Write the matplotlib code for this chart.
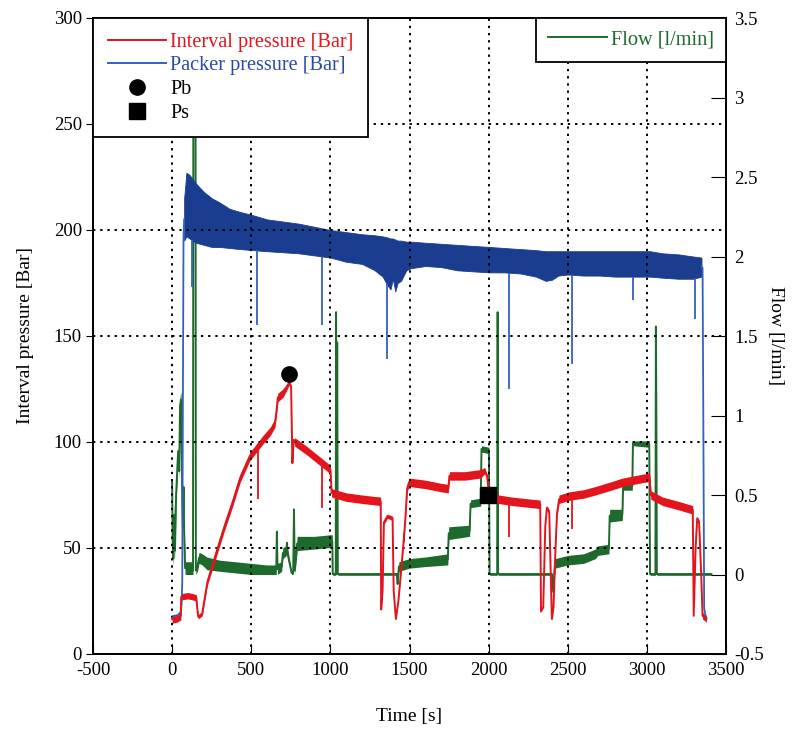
import numpy as np
import matplotlib
matplotlib.use("Agg")
import matplotlib.pyplot as plt
from matplotlib.lines import Line2D

plt.rcParams['font.family'] = ['Liberation Serif', 'DejaVu Serif']
plt.rcParams['axes.unicode_minus'] = False

# ---------------- data ----------------
# Packer pressure [Bar] : noisy band (top / bottom envelope)
pk_t = [76, 90, 110, 150, 200, 250, 300, 363, 430, 510, 600, 700, 800, 900, 1000, 1100, 1200, 1280,
        1330, 1360, 1380, 1395, 1410, 1425, 1446, 1480, 1510, 1600, 1700, 1800, 1900, 2007, 2100,
        2200, 2300, 2360, 2400, 2440, 2500, 2600, 2700, 2800, 2900, 3020, 3100, 3200, 3293, 3345]
pk_top = [215, 227, 226, 222, 218, 215, 213, 210, 208.5, 207, 205, 204, 203, 201.5, 200, 199, 198, 197.5,
          197, 196.5, 196, 196, 195.5, 195, 195, 194.5, 194.5, 194, 193.5, 193, 192.5, 192, 191.5,
          191, 190.5, 190, 190, 190, 190, 190, 190, 190, 190, 190, 189, 188.5, 187.5, 187]
pk_bot = [195, 197, 196, 194, 193, 192, 192, 191.5, 191, 190.5, 190, 189.5, 189, 188, 187, 185, 184, 181,
          178, 174, 172, 177, 171, 175, 176, 181, 182, 183, 182.5, 181, 180.5, 180, 180,
          179.5, 178, 176, 176.5, 178.5, 179, 178.5, 178.5, 178, 178, 178, 177.5, 177, 177, 178]
# thin parts (start rise / end drop)
pk_start_t = [0, 15, 30, 45, 55, 60, 64, 68, 72, 76]
pk_start_p = [17, 18, 17.5, 19, 20, 24, 34, 120, 197, 205]
pk_end_t = [3345, 3352, 3358, 3362, 3368, 3376]
pk_end_p = [183, 182, 90, 22, 19, 17]
# downward spikes
pk_spk_t = [127, 535, 950, 1357, 2130, 2525, 2910, 3303]
pk_spk_min = [173, 155, 155, 139, 125, 137, 167, 158]

# Interval pressure [Bar] : (time, centre, half band width)
ip_t = [0, 30, 55, 58, 100, 130, 153, 158, 165, 190, 223, 280, 330, 382, 430, 490, 573, 620, 650, 660,
        668, 700, 725, 740, 752, 760, 768, 775, 850, 900, 950, 1000, 1008, 1100, 1200, 1318, 1321,
        1330, 1338, 1360, 1393, 1400, 1414, 1430, 1450, 1465, 1475, 1485, 1497, 1600, 1700, 1745,
        1752, 1850, 1950, 1975, 1990, 2003, 2063, 2150, 2250, 2326, 2331, 2345, 2358, 2368, 2383,
        2395, 2400, 2410, 2420, 2432, 2445, 2509, 2600, 2675, 2763, 2847, 2950, 3017, 3025, 3100,
        3200, 3290, 3296, 3308, 3318, 3330, 3342, 3352, 3376]
ip_p = [16.5, 17, 18, 27, 27.5, 27, 26.5, 22, 17.5, 19, 34, 48, 60, 71.5, 83, 93, 101, 105, 109, 115,
        121, 123, 126, 128, 126, 90, 101, 100, 96, 93, 90, 87, 76, 74, 73, 72, 21,
        30, 62, 65, 64, 30, 16.5, 25, 42, 55, 65, 78, 81, 80, 78.5, 78,
        84, 84, 85, 86.5, 84, 75, 73, 72, 71.2, 70.6, 20, 22, 60, 69, 67,
        30, 16.5, 22, 45, 66, 73, 74.5, 75.5, 77, 79, 81, 82.5, 83.4, 75, 72,
        70, 68, 18, 50, 64, 62, 40, 18, 16.5]
ip_h = [2, 2, 2, 1.5, 1.5, 1.5, 1.5, 1, 1, 1, 1.5, 2, 2, 2, 2, 2, 2, 2, 2, 2,
        2, 2, 1.5, 1, 1, 0, 0, 2, 2, 2, 2, 2, 2, 2, 2, 2, 0,
        0, 1, 1, 1, 0, 0, 0, 1, 1, 1, 1.5, 2, 2, 2, 2,
        2, 2, 2, 1.5, 1, 1, 2, 2, 2, 2, 0, 0, 0, 1, 1,
        0, 0, 0, 0, 1, 2, 2, 2, 2, 2, 2, 2, 2, 2, 2,
        2, 2, 0, 0, 1, 1, 0, 1.5, 1.5]
ip_spk_t = [543, 950, 1467, 2130, 2525]
ip_spk_min = [73, 69, 53, 55, 59]

# Flow [l/min] : (time, low, high)
fl_t = [0, 3, 8, 12, 18, 25, 32, 38, 45, 50, 56, 60, 64, 68, 72, 76, 82, 125, 132, 134, 148, 150, 160,
        170, 190, 220, 300, 400, 500, 600, 658, 662, 666, 692, 700, 722, 726, 730, 755, 765, 770, 775,
        790, 900, 1000, 1012, 1015, 1034, 1036, 1040, 1043, 1047, 1420, 1425, 1433, 1500, 1600, 1742,
        1748, 1880, 1886, 1950, 1955, 2002, 2006, 2054, 2057, 2060, 2400, 2408, 2420, 2500, 2600,
        2675, 2690, 2760, 2765, 2845, 2850, 2908, 2912, 3015, 3020, 3054, 3057, 3060, 3063, 3408]
fl_lo = [.55, .15, .05, .3, .1, .45, .6, .75, .6, 1.0, 1.05, .85, .4, .25, .5, .25, .0, .0, .0, 2.9, 2.9, .0, .02,
         .07, .06, .03, .02, .01, .0, .0, .0, .27, .0, .02, .1, .12, .2, .1, .0, .0, .41, .0,
         .15, .16, .17, .17, -.005, -.005, 1.65, .0, 1.46, -.005, -.005, -.06, .02, .04, .05, .06,
         .22, .24, .42, .43, .77, .76, -.005, -.005, 1.65, -.005, -.005, -.11, .04, .06, .07,
         .1, .12, .13, .33, .34, .53, .53, .81, .80, -.005, -.005, 1.56, 1.0, -.005, -.005]
fl_hi = [.62, .3, .15, .45, .2, .55, .7, .8, .7, 1.12, 1.15, .9, .5, .35, .6, .3, .08, .08, .05, 2.9, 2.9, .05, .08,
         .14, .13, .11, .09, .08, .07, .06, .06, .27, .07, .08, .17, .18, .2, .16, .02, .02, .41, .05,
         .24, .24, .25, .25, .01, .01, 1.65, .01, 1.46, .01, .01, -.06, .08, .1, .11, .13,
         .3, .31, .47, .48, .81, .8, .01, .01, 1.65, .01, .01, -.11, .1, .12, .13,
         .16, .18, .19, .41, .41, .58, .58, .84, .84, .01, .01, 1.56, 1.0, .01, .01]

# markers
pb_t, pb_p = [740], [132]
ps_t, ps_p = [1998], [75]

# ---------------- styling ----------------
RED = '#e3141b'
BLUE_BAND = '#1b3d8f'
BLUE_LINE = '#3560bd'
GREEN = '#1d6a2c'

fig = plt.figure(figsize=(7.95, 7.29), dpi=100)
ax = fig.add_axes([93 / 795, 1 - 654 / 729, 633 / 795, 636 / 729])
ax2 = ax.twinx()
ax.set_zorder(ax2.get_zorder() + 1)
ax.patch.set_visible(False)

# flow on right axis
fl_t_a = np.array(fl_t, float)
fl_lo_a = np.array(fl_lo)
fl_hi_a = np.array(fl_hi)
ax2.fill_between(fl_t_a, fl_lo_a, fl_hi_a, color=GREEN, lw=0)
flow_line, = ax2.plot(fl_t_a, (fl_lo_a + fl_hi_a) / 2, color=GREEN, lw=1.4)

# packer pressure
ax.fill_between(pk_t, pk_bot, pk_top, color=BLUE_BAND, lw=0.6, edgecolor=BLUE_BAND)
ax.plot(pk_start_t, pk_start_p, color=BLUE_LINE, lw=1.3)
ax.plot(pk_end_t, pk_end_p, color=BLUE_LINE, lw=1.3)
ax.vlines(pk_spk_t, pk_spk_min, np.interp(pk_spk_t, pk_t, pk_bot), color=BLUE_LINE, lw=1.3)

# interval pressure
ip_p_a = np.array(ip_p)
ip_h_a = np.array(ip_h)
ax.fill_between(ip_t, ip_p_a - ip_h_a, ip_p_a + ip_h_a, color=RED, lw=0)
ax.plot(ip_t, ip_p_a, color=RED, lw=1.4)
ax.vlines(ip_spk_t, ip_spk_min, np.interp(ip_spk_t, ip_t, ip_p), color=RED, lw=1.3)

# markers
ax.plot(pb_t, pb_p, 'o', color='k', markersize=11, zorder=6)
ax.plot(ps_t, ps_p, 's', color='k', markersize=12, zorder=6)

# axes
ax.set_xlim(-500, 3500)
ax.set_ylim(0, 300)
ax2.set_ylim(-0.5, 3.5)
ax.set_xticks(np.arange(-500, 3501, 500))
ax.set_yticks(np.arange(0, 301, 50))
ax2.set_yticks(np.arange(-0.5, 3.51, 0.5))
ax2.set_yticklabels(['-0.5', '0', '0.5', '1', '1.5', '2', '2.5', '3', '3.5'])
ax.grid(True, color='black', linestyle=(0, (1.2, 2.5)), lw=1.4)

FS = 13.5
ax.tick_params(axis='x', direction='in', length=7, labelsize=FS, pad=6)
ax.tick_params(axis='y', direction='out', length=5, labelsize=FS, pad=3)
ax2.tick_params(axis='y', direction='in', length=11, labelsize=FS, pad=6)
for a in (ax, ax2):
    for s in a.spines.values():
        s.set_linewidth(1.3)

ax.set_xlabel('Time [s]', fontsize=14, labelpad=21)
ax.set_ylabel('Interval pressure [Bar]', fontsize=14, labelpad=14)
ax2.set_ylabel('Flow [l/min]', fontsize=14, rotation=270, labelpad=14)

# legends
h_ip = Line2D([], [], color=RED, lw=1.4)
h_pk = Line2D([], [], color=BLUE_LINE, lw=1.4)
h_pb = Line2D([], [], marker='o', ls='none', color='k', markersize=11)
h_ps = Line2D([], [], marker='s', ls='none', color='k', markersize=11)
leg1 = ax.legend([h_ip, h_pk, h_pb, h_ps],
                 ['Interval pressure [Bar]', 'Packer pressure [Bar]', 'Pb', 'Ps'],
                 loc='upper left', bbox_to_anchor=(0, 1), borderaxespad=0,
                 fontsize=14.6, frameon=True, fancybox=False, edgecolor='black',
                 framealpha=1, handlelength=2.9, handletextpad=0.2, labelspacing=0.22,
                 borderpad=0.72,
                 labelcolor=[RED, '#2a4aa8', 'black', 'black'])
leg1.get_frame().set_linewidth(1.3)
ax.add_artist(leg1)
h_fl = Line2D([], [], color=GREEN, lw=1.4)
leg2 = ax.legend([h_fl], ['Flow [l/min]'], loc='upper right', bbox_to_anchor=(1, 1),
                 borderaxespad=0, fontsize=14.6, frameon=True, fancybox=False,
                 edgecolor='black', framealpha=1, handlelength=2.9, handletextpad=0.2,
                 borderpad=0.6, labelcolor=[GREEN])
leg2.get_frame().set_linewidth(1.3)

fig.savefig('out.png', dpi=100)
